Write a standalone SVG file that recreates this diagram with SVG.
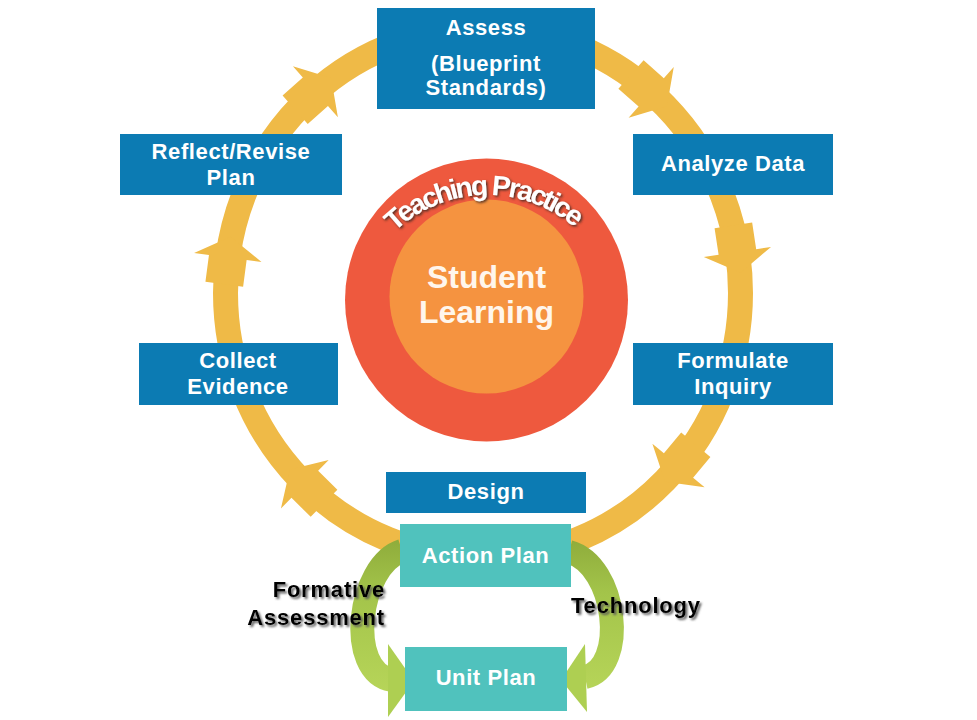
<svg xmlns="http://www.w3.org/2000/svg" xmlns:xlink="http://www.w3.org/1999/xlink" width="977" height="720" viewBox="0 0 977 720">
<style>
.box{fill:#0C7BB3}
.tbox{fill:#50C2BD}
.lbl{font-family:"Liberation Sans",Arial,sans-serif;font-weight:bold;font-size:22px;letter-spacing:0.6px;fill:#ffffff;text-anchor:middle}
.big{font-family:"Liberation Sans",Arial,sans-serif;font-weight:bold;font-size:32px;fill:#FFF6EC;text-anchor:middle}
.dark{font-family:"Liberation Sans",Arial,sans-serif;font-weight:bold;font-size:22px;letter-spacing:0.8px;fill:#000000}
.arc{font-family:"Liberation Sans",Arial,sans-serif;font-weight:bold;font-size:28px;letter-spacing:-2.5px;fill:#ffffff}
.ring{fill:none;stroke:#EFBA47;stroke-width:25}
.ah{fill:#EFBA47}
</style>
<defs>
<polygon id="ah" points="-27,-19 0,-19 0,-34 21,0 0,34 0,19 -27,19"/>
<linearGradient id="gg" gradientUnits="userSpaceOnUse" x1="0" y1="535" x2="0" y2="700">
<stop offset="0" stop-color="#8DAA3A"/>
<stop offset="0.35" stop-color="#A3C44A"/>
<stop offset="1" stop-color="#B8D65A"/>
</linearGradient>
<filter id="sh" x="-10%" y="-20%" width="130%" height="160%">
<feDropShadow dx="2" dy="2" stdDeviation="1.2" flood-color="#555555" flood-opacity="0.9"/>
</filter>
<filter id="sh2" x="-10%" y="-30%" width="130%" height="170%">
<feDropShadow dx="1.5" dy="1.5" stdDeviation="0.9" flood-color="#4a2a22" flood-opacity="0.95"/>
</filter>
<path id="tparc" d="M 353,329 A 134 134 0 0 1 621,329"/>
</defs>

<g id="connectors">
<ellipse class="ring" cx="483" cy="293" rx="257.5" ry="265"/>
<use href="#ah" class="ah" transform="translate(315.4,91.8) rotate(-41.4)"/>
<use href="#ah" class="ah" transform="translate(651.2,92.4) rotate(41.6)"/>
<use href="#ah" class="ah" transform="translate(737.4,252) rotate(81.4)"/>
<use href="#ah" class="ah" transform="translate(678.5,465.5) rotate(129.8)"/>
<use href="#ah" class="ah" transform="translate(304.8,484.3) rotate(-135.4)"/>
<use href="#ah" class="ah" transform="translate(227.8,257.5) rotate(-82.5)"/>
</g>

<g id="center">
<circle cx="486.5" cy="300" r="141.5" fill="#EE593E"/>
<circle cx="486.5" cy="296.5" r="97" fill="#F59340"/>
<text class="arc" filter="url(#sh2)"><textPath href="#tparc" startOffset="49%" text-anchor="middle">Teaching Practice</textPath></text>
<text class="big" x="486.5" y="288">Student</text>
<text class="big" x="486.5" y="323">Learning</text>
</g>

<g id="assess">
<rect class="box" x="377" y="8" width="218" height="101"/>
<text class="lbl" x="486" y="35">Assess</text>
<text class="lbl" x="486" y="71">(Blueprint</text>
<text class="lbl" x="486" y="95">Standards)</text>
</g>

<g id="analyze">
<rect class="box" x="633" y="134" width="200" height="61"/>
<text class="lbl" x="733" y="171">Analyze Data</text>
</g>

<g id="formulate">
<rect class="box" x="633" y="343" width="200" height="62"/>
<text class="lbl" x="733" y="368">Formulate</text>
<text class="lbl" x="733" y="394">Inquiry</text>
</g>

<g id="reflect">
<rect class="box" x="120" y="134" width="222" height="61"/>
<text class="lbl" x="231" y="159">Reflect/Revise</text>
<text class="lbl" x="231" y="185">Plan</text>
</g>

<g id="collect">
<rect class="box" x="139" y="343" width="199" height="62"/>
<text class="lbl" x="238" y="368">Collect</text>
<text class="lbl" x="238" y="394">Evidence</text>
</g>

<g id="design">
<rect class="box" x="386" y="472" width="200" height="41"/>
<text class="lbl" x="486" y="499">Design</text>
</g>

<g id="green-arrows">
<path d="M 402,551 C 358,565 345,672 392,680" fill="none" stroke="url(#gg)" stroke-width="24"/>
<polygon points="388,644 414,681 388,717" fill="#AECF52"/>
<path d="M 569,552 C 617,565 628,668 585,677" fill="none" stroke="url(#gg)" stroke-width="24"/>
<polygon points="585,644 561,680 587,712" fill="#AECF52"/>
</g>

<g id="action">
<rect class="tbox" x="400" y="524" width="171" height="63"/>
<text class="lbl" x="485.5" y="563">Action Plan</text>
</g>

<g id="unit">
<rect class="tbox" x="405" y="647" width="162" height="64"/>
<text class="lbl" x="486" y="685">Unit Plan</text>
</g>

<g id="labels" filter="url(#sh)">
<text class="dark" x="385" y="597" text-anchor="end">Formative</text>
<text class="dark" x="385" y="625" text-anchor="end">Assessment</text>
<text class="dark" x="571" y="613">Technology</text>
</g>
</svg>
